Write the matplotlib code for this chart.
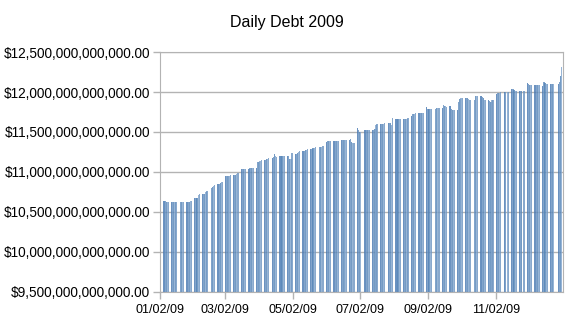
import numpy as np
import pandas as pd
import matplotlib
matplotlib.use("Agg")
import matplotlib.pyplot as plt
import matplotlib.dates as mdates
from matplotlib.ticker import FuncFormatter

plt.rcParams['font.family'] = ['Liberation Sans', 'DejaVu Sans']

# total public debt outstanding, billions of dollars, one row per week
weeks = [
    [10633],                                   # Jan 2
    [10640, 10638, 10622, 10620, 10621],
    [10620, 10619, 10620, 10622, 10630],
    [10628, 10630, 10630, 10629],              # Jan 19 holiday
    [10630, 10630, 10631, 10636, 10640],
    [10675, 10676, 10680, 10718, 10725],
    [10725, 10726, 10727, 10745, 10765],
    [10800, 10812, 10828, 10840],              # Feb 16 holiday
    [10848, 10850, 10862, 10878, 10880],
    [10948, 10950, 10952, 10953, 10958],
    [10960, 10960, 10961, 10970, 10990],
    [11038, 11040, 11041, 11041, 11042],
    [11042, 11048, 11049, 11050, 11050],
    [11050, 11125, 11126, 11140, 11155],
    [11154, 11155, 11160, 11168, 11175],
    [11175, 11190, 11225, 11196, 11190],
    [11195, 11196, 11196, 11197, 11196],
    [11196, 11196, 11165, 11158, 11240],
    [11225, 11230, 11240, 11250, 11258],
    [11260, 11266, 11270, 11278, 11290],
    [11290, 11293, 11298, 11302, 11310],
    [11310, 11312, 11315, 11320],              # May 25 holiday
    [11380, 11385, 11386, 11388, 11388],
    [11390, 11390, 11388, 11386, 11385],
    [11400, 11400, 11401, 11398, 11398],
    [11400, 11410, 11372, 11362, 11360],
    [11545, 11530, 11505, 11502],              # Jul 3 holiday
    [11520, 11520, 11521, 11522, 11530],
    [11530, 11531, 11532, 11590, 11600],
    [11600, 11601, 11602, 11603, 11610],
    [11610, 11611, 11612, 11590, 11675],
    [11660, 11660, 11661, 11662, 11662],
    [11662, 11663, 11664, 11668, 11670],
    [11700, 11730, 11731, 11731, 11732],
    [11732, 11733, 11733, 11734, 11735],
    [11810, 11792, 11790, 11790, 11791],
    [11792, 11795, 11800, 11800],              # Sep 7 holiday
    [11800, 11840, 11830, 11820, 11812],
    [11820, 11790, 11780, 11772, 11770],
    [11780, 11880, 11909, 11925, 11925],
    [11925, 11925, 11924, 11910, 11900],
    [11900, 11945, 11955, 11955],              # Oct 12 holiday
    [11955, 11940, 11925, 11900, 11900],
    [11900, 11890, 11880, 11895, 11900],
    [11980, 11985, 11990, 11993, 11995],
    [11995, 11996, 11996, 11997],              # Nov 11 holiday
    [12040, 12035, 12025, 12018, 12015],
    [12015, 12015, 12016, 12013],              # Nov 26 holiday
    [12110, 12100, 12090, 12090, 12090],
    [12090, 12090, 12091, 12090, 12090],
    [12080, 12130, 12110, 12100, 12100],
    [12100, 12100, 12100, 12101],              # Dec 25 holiday
    [12100, 12130, 12200, 12311],
]
holidays = ['2009-01-01', '2009-01-19', '2009-02-16', '2009-05-25', '2009-07-03',
            '2009-09-07', '2009-10-12', '2009-11-11', '2009-11-26', '2009-12-25']
tick_dates = ['2009-01-02', '2009-03-02', '2009-05-02', '2009-07-02', '2009-09-02', '2009-11-02']

debt = np.array([v for w in weeks for v in w]) * 1e9
days = pd.bdate_range('2009-01-01', '2009-12-31')
days = days[~days.isin(pd.to_datetime(holidays))]

# darker on monday, lighter toward friday
shades = ['#4a7ab2', '#6690c0', '#5585b8', '#82a5cd', '#6f96c2']
colors = [shades[d.weekday()] for d in days]

fig = plt.figure(figsize=(5.73, 3.22), dpi=100)
ax = fig.add_axes([0.2792, 0.0932, 0.7025, 0.7453])

ax.set_axisbelow(True)
ax.grid(axis='y', color='#b3b3b3', linewidth=1)
ax.bar(mdates.date2num(days), debt, width=1.12, align='edge', color=colors,
       alpha=0.82, linewidth=0)

x0 = mdates.date2num(pd.Timestamp('2009-01-02'))
ax.set_xlim(x0, x0 + 364.4)
ax.set_ylim(9.5e12, 12.5e12)
ax.set_yticks(np.arange(9.5e12, 12.51e12, 0.5e12))
ax.yaxis.set_major_formatter(FuncFormatter(lambda v, p: '${:,.2f}'.format(v)))
ax.set_xticks(mdates.date2num(pd.to_datetime(tick_dates)))
ax.xaxis.set_major_formatter(mdates.DateFormatter('%m/%d/%y'))

for s in ax.spines.values():
    s.set_color('#b3b3b3')
ax.tick_params(colors='#b3b3b3', labelcolor='black', length=5, width=1)
ax.tick_params(axis='y', labelsize=9.8, pad=2)
ax.tick_params(axis='x', labelsize=9)

fig.text(0.5, 1 - 22 / 322, 'Daily Debt 2009', ha='center', va='center', fontsize=11.5)

fig.savefig('out.png', dpi=100)
